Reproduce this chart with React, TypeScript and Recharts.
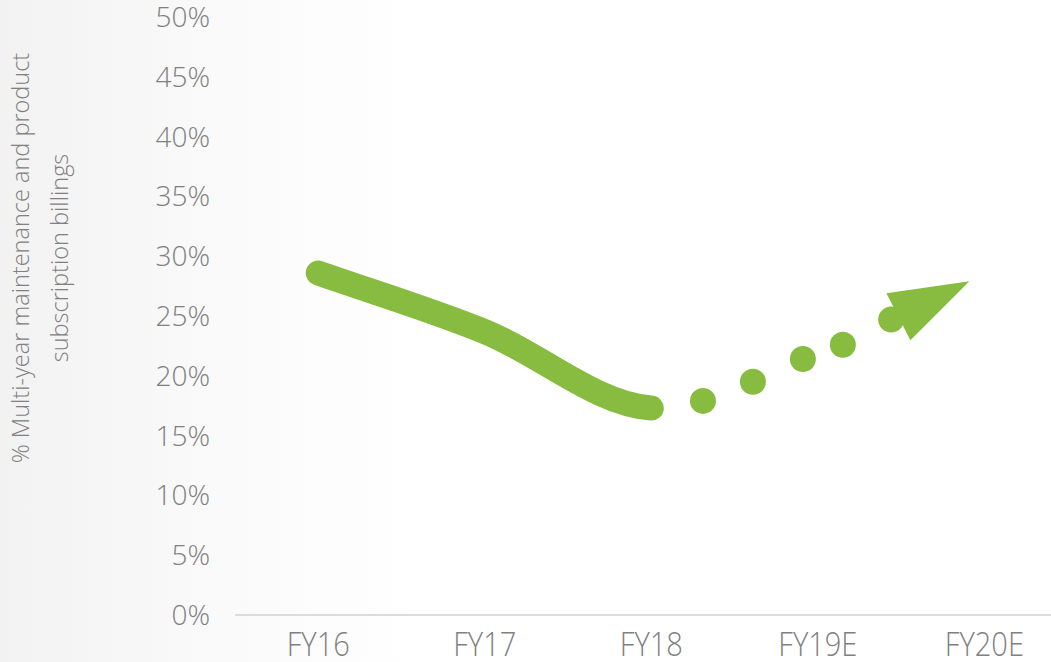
import React from 'react';
import { ComposedChart, Line, Scatter, XAxis, YAxis } from 'recharts';

// categories on the x axis (positioned 0..4 on a numeric axis)
const years = ['FY16', 'FY17', 'FY18', 'FY19E', 'FY20E'];
const yTicks = [0, 5, 10, 15, 20, 25, 30, 35, 40, 45, 50];

// actual trend (solid line)
const actualX = [0, 1, 2];
const actualValues = [28.6, 23.7, 17.3];

// forecast trend (dotted) + arrow head
const forecastX = [2.31, 2.61, 2.91, 3.15, 3.44];
const forecastValues = [17.9, 19.5, 21.4, 22.6, 24.7];
const arrowX = [3.91];
const arrowValues = [27.9];

const GREEN = '#88bc40';
const GREY = '#808080';
const FONT = '"Open Sans", sans-serif';

const actualData = actualX.map((x, i) => ({ x, v: actualValues[i] }));
const forecastData = forecastX.map((x, i) => ({ x, v: forecastValues[i] }));
const arrowData = arrowX.map((x, i) => ({ x, v: arrowValues[i] }));

// hermite curve that eases into the last point (the solid line flattens at FY18)
function easeOutCurve(context: any) {
  let xs: number[] = [];
  let ys: number[] = [];
  return {
    areaStart() {},
    areaEnd() {},
    lineStart() {
      xs = [];
      ys = [];
    },
    point(x: number, y: number) {
      xs.push(+x);
      ys.push(+y);
    },
    lineEnd() {
      const n = xs.length;
      if (!n) return;
      context.moveTo(xs[0], ys[0]);
      if (n === 1) return;
      const m = xs.map((_, i) => {
        if (i === 0) return (ys[1] - ys[0]) / (xs[1] - xs[0]);
        if (i === n - 1) return 0.15 * (ys[n - 1] - ys[n - 2]) / (xs[n - 1] - xs[n - 2]);
        return (ys[i + 1] - ys[i - 1]) / (xs[i + 1] - xs[i - 1]);
      });
      for (let i = 0; i < n - 1; i++) {
        const h = (xs[i + 1] - xs[i]) / 3;
        context.bezierCurveTo(
          xs[i] + h, ys[i] + m[i] * h,
          xs[i + 1] - h, ys[i + 1] - m[i + 1] * h,
          xs[i + 1], ys[i + 1]
        );
      }
    },
  };
}

const XTick = (props: any) => {
  const { x, y, payload } = props;
  return (
    <text
      x={0}
      y={0}
      transform={`translate(${x},${y + 39}) scale(0.88,1)`}
      textAnchor="middle"
      fill={GREY}
      fontSize={33}
      fontWeight={300}
      fontFamily={FONT}
    >
      {years[payload.value]}
    </text>
  );
};

const YLabel = (props: any) => {
  const vb = props.viewBox || { x: 0, y: 17, height: 598 };
  const cy = vb.y + vb.height / 2 - 58;
  const common = {
    textAnchor: 'middle' as const,
    fill: GREY,
    fontSize: 23.5,
    fontWeight: 300,
    fontFamily: FONT,
  };
  return (
    <g>
      <text x={29} y={cy} transform={`rotate(-90, 29, ${cy})`} {...common}>
        % Multi-year maintenance and product
      </text>
      <text x={68} y={cy} transform={`rotate(-90, 68, ${cy})`} {...common}>
        subscription billings
      </text>
    </g>
  );
};

const Dot = (props: any) => <circle cx={props.cx} cy={props.cy} r={13} fill={GREEN} />;

const ArrowHead = (props: any) => {
  const { cx, cy } = props;
  return (
    <polygon
      points={`${cx},${cy} ${cx - 83},${cy + 12} ${cx - 59},${cy + 59}`}
      fill={GREEN}
    />
  );
};

export default function App() {
  return (
    <div
      style={{
        position: 'fixed',
        left: 0,
        top: 0,
        width: 1051,
        height: 662,
        background: 'linear-gradient(to right, #f2f2f2 0%, #f9f9f9 18%, #ffffff 40%)',
      }}
    >
      <ComposedChart width={1051} height={662} margin={{ top: 17, right: 0, bottom: 0, left: 0 }}>
        <XAxis
          type="number"
          dataKey="x"
          domain={[-0.5, 4.4]}
          ticks={[0, 1, 2, 3, 4]}
          interval={0}
          allowDataOverflow
          height={47}
          tickSize={0}
          tickLine={false}
          axisLine={{ stroke: '#dcdcdc', strokeWidth: 2 }}
          tick={<XTick />}
        />
        <YAxis
          type="number"
          dataKey="v"
          domain={[0, 50]}
          ticks={yTicks}
          interval={0}
          width={235}
          axisLine={false}
          tickLine={false}
          tickSize={0}
          tickMargin={25}
          tickFormatter={(v) => `${v}%`}
          tick={{ fill: GREY, fontSize: 28, fontWeight: 300, fontFamily: FONT }}
          label={{ content: <YLabel /> }}
        />
        <Line
          data={actualData}
          dataKey="v"
          type={easeOutCurve as any}
          stroke={GREEN}
          strokeWidth={25}
          strokeLinecap="round"
          dot={false}
          activeDot={false}
          isAnimationActive={false}
        />
        <Scatter data={forecastData} dataKey="v" shape={<Dot />} isAnimationActive={false} />
        <Scatter data={arrowData} dataKey="v" shape={<ArrowHead />} isAnimationActive={false} />
      </ComposedChart>
    </div>
  );
}
